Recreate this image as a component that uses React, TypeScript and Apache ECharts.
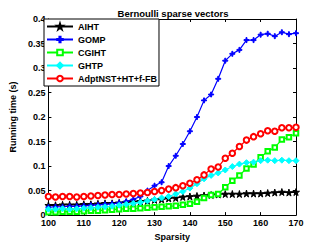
import React, { useEffect, useRef } from "react";
import * as echarts from "echarts";

const sparsity = [100,102,104,106,108,110,112,114,116,118,120,122,124,126,128,130,132,134,136,138,140,142,144,146,148,150,152,154,156,158,160,162,164,166,168,170];

const aiht = [0.020,0.020,0.021,0.021,0.021,0.022,0.022,0.023,0.024,0.024,0.025,0.026,0.027,0.028,0.029,0.031,0.032,0.034,0.035,0.037,0.038,0.039,0.040,0.041,0.042,0.043,0.043,0.043,0.044,0.044,0.044,0.045,0.046,0.047,0.046,0.047];
const gomp = [0.016,0.017,0.017,0.018,0.018,0.019,0.020,0.021,0.022,0.023,0.025,0.028,0.032,0.038,0.050,0.060,0.067,0.100,0.121,0.145,0.171,0.200,0.234,0.246,0.278,0.315,0.329,0.337,0.357,0.357,0.368,0.370,0.365,0.373,0.369,0.371];
const cgiht = [0.006,0.006,0.007,0.007,0.007,0.008,0.009,0.009,0.010,0.011,0.012,0.013,0.013,0.014,0.015,0.016,0.017,0.018,0.019,0.021,0.023,0.027,0.035,0.041,0.043,0.057,0.070,0.081,0.095,0.103,0.118,0.130,0.138,0.154,0.159,0.167];
const ghtp = [0.012,0.012,0.013,0.012,0.013,0.014,0.015,0.016,0.017,0.018,0.020,0.022,0.024,0.026,0.029,0.032,0.035,0.038,0.043,0.048,0.055,0.064,0.074,0.081,0.086,0.092,0.099,0.104,0.107,0.108,0.111,0.112,0.111,0.112,0.111,0.111];
const adpt = [0.038,0.037,0.038,0.038,0.037,0.038,0.039,0.040,0.041,0.042,0.042,0.043,0.044,0.045,0.046,0.048,0.050,0.053,0.056,0.060,0.065,0.072,0.082,0.094,0.098,0.116,0.126,0.140,0.153,0.160,0.166,0.172,0.171,0.178,0.178,0.179];

const seriesNames = ["AIHT", "GOMP", "CGIHT", "GHTP", "AdptNST+HT+f-FB"];
const seriesValues = [aiht, gomp, cgiht, ghtp, adpt];
const seriesColors = ["#000000", "#0000ff", "#00ff00", "#00ffff", "#ff0000"];

const STAR = "path://M50,0 L61,35 L98,35 L68,57 L79,91 L50,70 L21,91 L32,57 L2,35 L39,35 Z";
const PLUS = "path://M4,0 L6,0 L6,4 L10,4 L10,6 L6,6 L6,10 L4,10 L4,6 L0,6 L0,4 L4,4 Z";
const symbols = [STAR, PLUS, "emptyRect", "diamond", "emptyCircle"];
const symbolSizes = [7, 5, 4.5, 6, 5.5];

const FONT = "Liberation Sans";

export default function App() {
  const ref = useRef<HTMLDivElement>(null);
  useEffect(() => {
    if (!ref.current) return;
    const chart = echarts.init(ref.current, null, { renderer: "svg" });
    const axisCommon = {
      axisLine: { show: true, onZero: false, lineStyle: { color: "#000", width: 1 } },
      axisTick: { show: true, inside: true, length: 3, lineStyle: { color: "#000" } },
      splitLine: { show: false },
    };
    chart.setOption({
      animation: false,
      backgroundColor: "#fff",
      title: {
        text: "Bernoulli sparse vectors",
        left: 168,
        textAlign: "center",
        top: 3,
        textStyle: { fontFamily: FONT, fontSize: 9.5, fontWeight: "bold", color: "#000" },
      },
      legend: {
        data: seriesNames,
        orient: "vertical",
        left: 44,
        top: 19,
        itemWidth: 26,
        itemHeight: 7,
        itemGap: 4,
        padding: [3, 2, 3, 2],
        borderColor: "#000",
        borderWidth: 1,
        backgroundColor: "#fff",
        textStyle: { fontFamily: FONT, fontSize: 9, fontWeight: "bold", color: "#000" },
      },
      grid: { left: 43, right: 31, top: 19, bottom: 28, containLabel: false },
      xAxis: [
        {
          type: "value", min: 100, max: 170, interval: 10, position: "bottom",
          name: "Sparsity", nameLocation: "middle", nameGap: 15,
          nameTextStyle: { fontFamily: FONT, fontSize: 9, fontWeight: "bold", color: "#000" },
          axisLabel: { fontFamily: FONT, fontSize: 9, fontWeight: "bold", color: "#000", margin: 3 },
          ...axisCommon,
        },
        {
          type: "value", min: 100, max: 170, interval: 10, position: "top",
          axisLabel: { show: false }, ...axisCommon,
        },
      ],
      yAxis: [
        {
          type: "value", min: 0, max: 0.4, interval: 0.05, position: "left",
          name: "Running time (s)", nameLocation: "middle", nameGap: 25,
          nameTextStyle: { fontFamily: FONT, fontSize: 9, fontWeight: "bold", color: "#000" },
          axisLabel: { fontFamily: FONT, fontSize: 9, fontWeight: "bold", color: "#000", margin: 3 },
          ...axisCommon,
        },
        {
          type: "value", min: 0, max: 0.4, interval: 0.05, position: "right",
          axisLabel: { show: false }, ...axisCommon,
        },
      ],
      series: seriesNames.map((name, i) => ({
        name,
        type: "line",
        xAxisIndex: 0,
        yAxisIndex: 0,
        data: sparsity.map((s, j) => [s, seriesValues[i][j]]),
        symbol: symbols[i],
        symbolSize: symbolSizes[i],
        showAllSymbol: true,
        color: seriesColors[i],
        lineStyle: { color: seriesColors[i], width: 1.2 },
        itemStyle: { color: seriesColors[i], borderColor: seriesColors[i], borderWidth: 1 },
      })),
    });
    return () => chart.dispose();
  }, []);
  return <div ref={ref} style={{ width: 327, height: 246, position: "absolute", left: 0, top: 0 }} />;
}
